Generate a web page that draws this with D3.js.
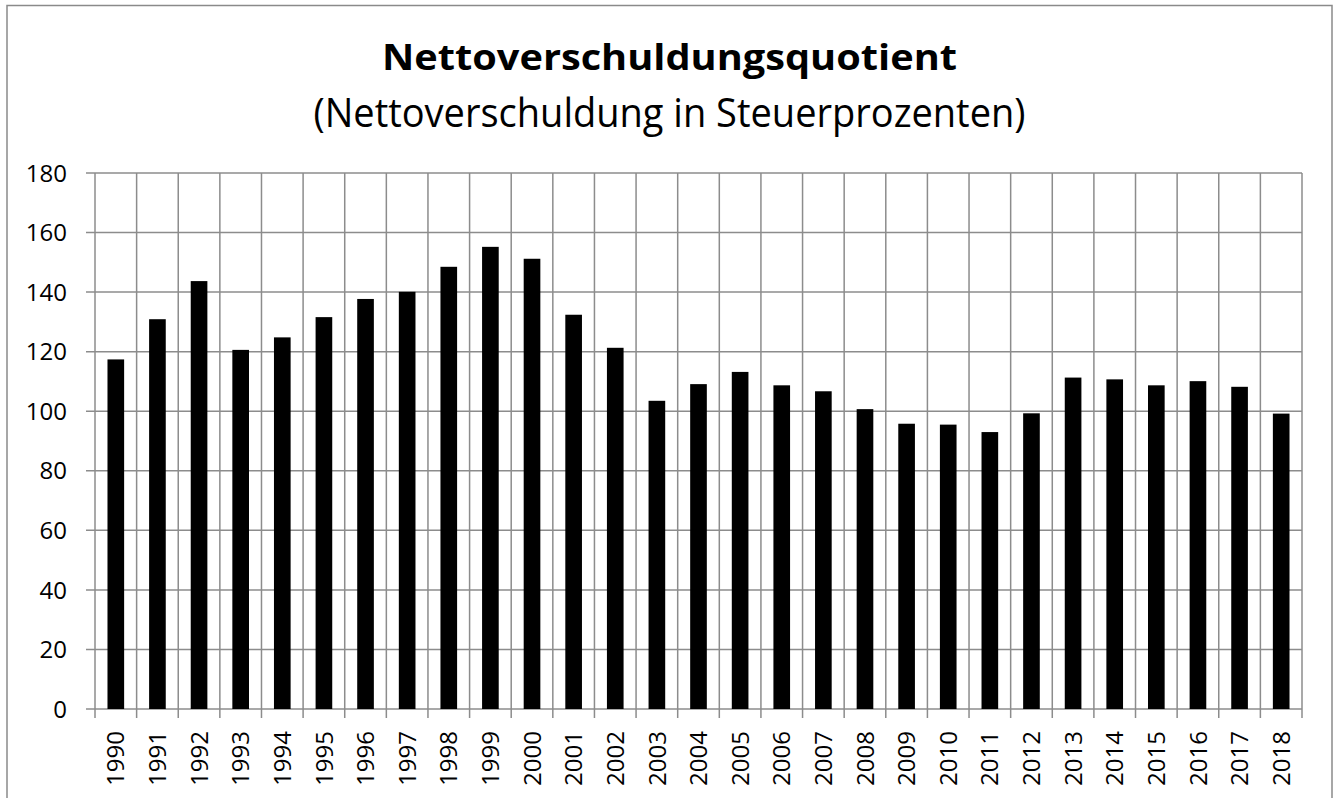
<!DOCTYPE html>
<html><head><meta charset="utf-8">
<script src="https://cdn.jsdelivr.net/npm/d3@7"></script>
<style>html,body{margin:0;padding:0;background:#fff;} svg{display:block;}</style>
</head><body>
<svg id="chart" width="1338" height="798"></svg>
<script>
const years = ["1990","1991","1992","1993","1994","1995","1996","1997","1998","1999","2000","2001","2002","2003","2004","2005","2006","2007","2008","2009","2010","2011","2012","2013","2014","2015","2016","2017","2018"];
const values = [117.4,130.9,143.7,120.6,124.8,131.6,137.7,140.1,148.5,155.2,151.2,132.4,121.3,103.5,109.1,113.2,108.7,106.7,100.7,95.8,95.5,93.0,99.3,111.3,110.7,108.7,110.1,108.2,99.2];
const yTicks = [0,20,40,60,80,100,120,140,160,180];
const title = "Nettoverschuldungsquotient";
const subtitle = "(Nettoverschuldung in Steuerprozenten)";

const svg = d3.select("#chart");
const font = "'Open Sans', 'Noto Sans', sans-serif";
const grid = "#8c8c8c";
const L = 95, R = 1302, T = 173, B = 709;

// frame
svg.append("rect").attr("x",7).attr("y",5.5).attr("width",1325).attr("height",820)
  .attr("fill","none").attr("stroke","#8a8a8a").attr("stroke-width",1.5);

const xb = d3.scaleBand().domain(years).range([L,R]);
const y = d3.scaleLinear().domain([0,180]).range([B,T]);

// horizontal grid
svg.append("g").selectAll("line").data(yTicks).join("line")
  .attr("x1",L-9).attr("x2",R).attr("y1",d=>y(d)).attr("y2",d=>y(d))
  .attr("stroke",grid).attr("stroke-width",1.5);
// vertical grid at band boundaries
const bounds = years.map(d=>xb(d)).concat([R]);
svg.append("g").selectAll("line").data(bounds).join("line")
  .attr("x1",d=>d).attr("x2",d=>d).attr("y1",T).attr("y2",B+9)
  .attr("stroke",grid).attr("stroke-width",1.5);

// y labels
svg.append("g").selectAll("text").data(yTicks).join("text")
  .attr("x",L-28).attr("y",d=>y(d)).attr("dy","0.36em")
  .attr("text-anchor","end").attr("font-family",font).attr("font-size",24).attr("fill","#000")
  .text(d=>d);

// bars
svg.append("g").selectAll("rect").data(values).join("rect")
  .attr("x",(d,i)=>xb(years[i]) + xb.bandwidth()*0.3)
  .attr("width",xb.bandwidth()*0.4)
  .attr("y",d=>y(d)).attr("height",d=>B-y(d))
  .attr("fill","#000");

// x labels
svg.append("g").selectAll("text").data(years).join("text")
  .attr("transform",d=>`translate(${xb(d)+xb.bandwidth()/2},731) rotate(-90)`)
  .attr("dy","0.36em").attr("text-anchor","end")
  .attr("font-family",font).attr("font-size",24).attr("fill","#000")
  .text(d=>d);

// titles
const cx = 669.5;
svg.append("text").attr("x",cx).attr("y",69.5).attr("text-anchor","middle")
  .attr("font-family",font).attr("font-weight","bold").attr("font-size",36)
  .attr("textLength",575).attr("lengthAdjust","spacingAndGlyphs").text(title);
svg.append("text").attr("x",cx).attr("y",126.7).attr("text-anchor","middle")
  .attr("font-family",font).attr("font-size",41)
  .attr("textLength",712).attr("lengthAdjust","spacingAndGlyphs").text(subtitle);
</script>
</body></html>
